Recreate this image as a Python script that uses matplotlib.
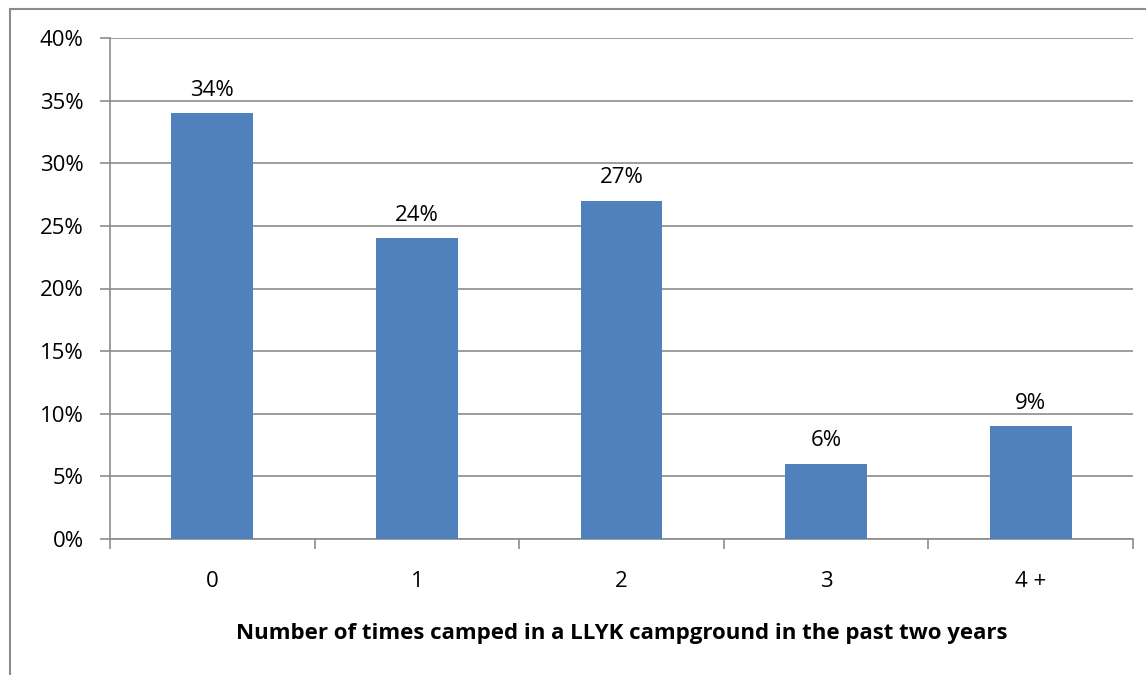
import matplotlib.pyplot as plt
from matplotlib.patches import Rectangle

categories = ['0', '1', '2', '3', '4 +']
values = [34, 24, 27, 6, 9]
yticks = [0, 5, 10, 15, 20, 25, 30, 35, 40]

W, H = 1146, 675
plt.rcParams['font.family'] = ['Open Sans', 'DejaVu Sans']

fig = plt.figure(figsize=(W / 100, H / 100), dpi=100)
# axes area in pixel coords
left, right, top, bottom = 110, 1133, 38, 539
ax = fig.add_axes([left / W, 1 - bottom / H, (right - left) / W, (bottom - top) / H])

# outer chart frame (cut off at right and bottom)
fig.patches.append(Rectangle((10 / W, -0.1), 1.2, 1 - 9 / H + 0.1, transform=fig.transFigure,
                             fill=False, edgecolor='#8c8c8c', linewidth=1.5))

x = list(range(len(categories)))
ax.bar(x, values, width=0.4, color='#4f81bd', zorder=3)
for xi, v in zip(x, values):
    ax.text(xi, v + 1.0, f'{v}%', ha='center', va='bottom', fontsize=16)

ax.set_xlim(-0.5, len(categories) - 0.5)
ax.set_ylim(0, 40)
ax.set_yticks(yticks)
ax.set_yticklabels([f'{t}%' for t in yticks], fontsize=16)
ax.yaxis.grid(True, color='#8c8c8c', linewidth=1.2, zorder=0)

ax.set_xticks(x)
ax.set_xticklabels(categories, fontsize=16)
ax.set_xticks([i - 0.5 for i in range(len(categories) + 1)], minor=True)
ax.tick_params(axis='x', which='major', length=0, pad=23)
ax.tick_params(axis='x', which='minor', length=7, color='#8c8c8c', width=1.2)
ax.tick_params(axis='y', length=7, color='#8c8c8c', width=1.2, pad=12)

for s in ['top', 'right']:
    ax.spines[s].set_visible(False)
for s in ['left', 'bottom']:
    ax.spines[s].set_color('#8c8c8c')
    ax.spines[s].set_linewidth(1.2)

ax.set_xlabel('Number of times camped in a LLYK campground in the past two years',
              fontsize=16, fontweight='bold', labelpad=22)

fig.savefig('out.png', dpi=100)
